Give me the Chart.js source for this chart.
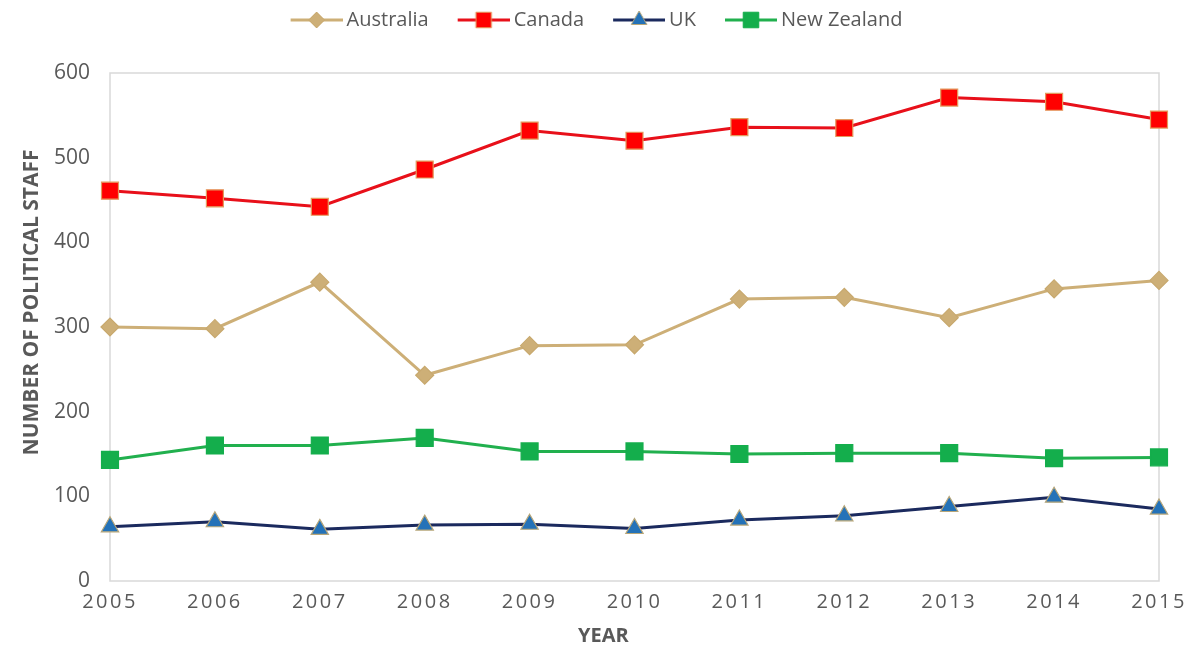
<!doctype html>
<html lang="en">
<head>
<meta charset="utf-8">
<title>Political staff</title>
<script src="https://cdn.jsdelivr.net/npm/chart.js"></script>
<style>
  html, body { margin: 0; padding: 0; background: #fff; }
  #wrap { width: 1201px; height: 654px; }
</style>
</head>
<body>
<div id="wrap"><canvas id="chart" width="1201" height="654"></canvas></div>
<script>
// data
const years = ['2005', '2006', '2007', '2008', '2009', '2010', '2011', '2012', '2013', '2014', '2015'];
const australia = [300, 298, 353, 243, 278, 279, 333, 335, 311, 345, 355];
const canada = [461, 452, 442, 486, 532, 520, 536, 535, 571, 566, 545];
const uk = [64, 70, 61, 66, 67, 62, 72, 77, 88, 99, 85];
const newZealand = [143, 160, 160, 169, 153, 153, 150, 151, 151, 145, 146];
const yTicks = [0, 100, 200, 300, 400, 500, 600];

const grey = '#595959';
const font = '"Open Sans", "Liberation Sans", sans-serif';
const nb = n => '\u00a0'.repeat(n);

// legend swatch: short line with the marker in the middle (blank strip on the left = gap to previous item)
function swatch(line, fill, border, style, r) {
  const c = document.createElement('canvas');
  c.width = 77; c.height = 24;
  const ctx = c.getContext('2d');
  ctx.strokeStyle = line; ctx.lineWidth = 3;
  ctx.beginPath(); ctx.moveTo(25, 12); ctx.lineTo(77, 12); ctx.stroke();
  ctx.fillStyle = fill; ctx.strokeStyle = border; ctx.lineWidth = 1;
  Chart.helpers.drawPoint(ctx, { pointStyle: style, rotation: 0, radius: r - 1, borderWidth: 1 }, 51, 12);
  return c;
}

const series = [
  { label: 'Australia', data: australia, line: '#CDAF77', fill: '#CDAF77', border: '#C8A96E', style: 'rectRot', r: 9 },
  { label: 'Canada', data: canada, line: '#E8101A', fill: '#FF0000', border: '#E39A5E', style: 'rect', r: 12 },
  { label: 'UK', data: uk, line: '#1B2A5E', fill: '#2472B8', border: '#B7A679', style: 'triangle', r: 10 },
  { label: 'New Zealand', data: newZealand, line: '#21B04E', fill: '#14AE4C', border: '#14AE4C', style: 'rect', r: 12 }
];

const frame = {
  id: 'frame',
  beforeInit(chart) {
    const lg = chart.legend;
    const fit = lg.fit;
    lg.fit = function () { fit.call(this); this.height = 73; };
  },
  beforeDatasetsDraw(chart) {
    const a = chart.chartArea, ctx = chart.ctx;
    ctx.save();
    ctx.strokeStyle = '#D9D9D9'; ctx.lineWidth = 1.5;
    ctx.strokeRect(a.left, a.top, a.right - a.left, a.bottom - a.top);
    ctx.restore();
  },
  afterLayout(chart) {
    const xs = chart.scales.x;
    if (xs._spaced) return;
    const orig = xs.drawLabels;
    xs.drawLabels = function (area) {
      chart.ctx.save();
      chart.ctx.letterSpacing = '2.5px';
      orig.call(this, area);
      chart.ctx.restore();
    };
    xs._spaced = true;
  }
};

new Chart(document.getElementById('chart'), {
  type: 'line',
  data: {
    labels: years,
    datasets: series.map(s => ({
      label: s.label,
      data: s.data,
      borderColor: s.line,
      borderWidth: 3,
      backgroundColor: s.fill,
      pointBackgroundColor: s.fill,
      pointBorderColor: s.border,
      pointBorderWidth: 1.2,
      pointStyle: s.style,
      pointRadius: s.r,
      pointHoverRadius: s.r,
      tension: 0,
      swatch: swatch(s.line, s.fill, s.border, s.style, s.r)
    }))
  },
  options: {
    responsive: false,
    animation: false,
    layout: { padding: { left: 15, right: 42, top: 0, bottom: 2 } },
    plugins: {
      tooltip: { enabled: false },
      legend: {
        position: 'top',
        labels: {
          color: grey,
          font: { family: font, size: 20 },
          usePointStyle: true,
          pointStyleWidth: 65,
          padding: 10,
          generateLabels(chart) {
            return chart.data.datasets.map((d, i) => ({
              text: d.label,
              pointStyle: d.swatch,
              fontColor: grey,
              lineWidth: 0,
              hidden: false,
              datasetIndex: i
            }));
          }
        }
      }
    },
    scales: {
      x: {
        offset: false,
        grid: { display: false, drawTicks: false },
        border: { display: false },
        ticks: { color: grey, font: { family: font, size: 20 }, padding: 9, maxRotation: 0 },
        title: { display: true, text: 'YEAR' + nb(12), color: grey, font: { family: font, size: 20, weight: 'bold' }, padding: { top: 0 } },
        afterFit(scale) { scale.height = 71; }
      },
      y: {
        min: 0,
        max: 600,
        grid: { display: false, drawTicks: false },
        border: { display: false },
        afterBuildTicks(scale) { scale.ticks = yTicks.map(v => ({ value: v })); },
        ticks: { color: grey, font: { family: font, size: 21 }, padding: 20 },
        title: { display: true, text: nb(9) + 'NUMBER OF POLITICAL STAFF', color: grey, font: { family: font, size: 21, weight: 'bold' }, padding: { bottom: 4 } },
        afterFit(scale) { scale.width = 95; }
      }
    }
  },
  plugins: [frame]
});
</script>
</body>
</html>
